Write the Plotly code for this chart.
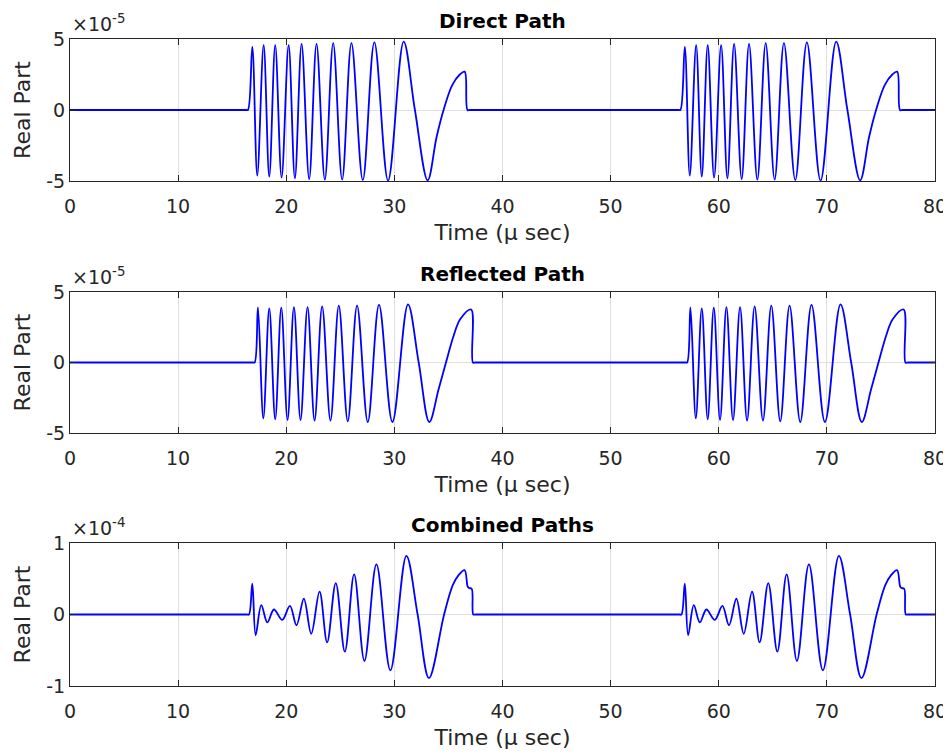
import plotly.graph_objects as go

# ---------------- data (time in microseconds) ----------------
# Values of the top two panels are in units of 1e-5, bottom panel in units of 1e-4.
pulse_offsets = [0.0, 40.0]          # the pulse repeats every 40 us
time_range = [0.0, 80.0]

direct_t = [16.30, 16.46, 16.86, 17.32, 17.91, 18.43, 18.98, 19.57, 20.22, 20.80,
            21.42, 22.12, 22.80, 23.57, 24.34, 25.17, 26.03, 27.08, 28.15, 29.42,
            30.86, 31.90, 33.08, 33.90, 34.55, 35.35, 36.05, 36.50, 36.76, 37.00]
direct_v = [0.0, 0.0, 4.45, -4.62, 4.57, -4.69, 4.57, -4.76, 4.57, -4.81,
            4.66, -4.86, 4.66, -4.90, 4.71, -4.90, 4.71, -4.93, 4.76, -4.97,
            4.81, 0.0, -4.95, -1.92, 0.0, 1.75, 2.50, 2.70, 0.0, 0.0]

reflected_t = [16.90, 17.08, 17.38, 17.88, 18.43, 18.98, 19.54, 20.12, 20.71, 21.32,
               21.97, 22.62, 23.32, 24.09, 24.86, 25.69, 26.55, 27.54, 28.58, 29.82,
               31.26, 32.25, 33.23, 34.09, 34.77, 35.48, 36.10, 37.10, 37.27, 37.50]
reflected_v = [0.0, 0.0, 3.91, -3.96, 3.84, -4.03, 3.89, -4.08, 3.93, -4.08,
               3.93, -4.12, 3.98, -4.12, 4.03, -4.17, 4.03, -4.22, 4.08, -4.22,
               4.12, 0.0, -4.22, -1.90, 0.0, 1.90, 3.08, 3.76, 0.0, 0.0]

combined_t = [16.35, 16.55, 16.86, 17.17, 17.69, 18.25, 18.86, 19.63, 20.34, 20.95,
              21.63, 22.31, 23.08, 23.78, 24.58, 25.42, 26.28, 27.23, 28.34, 29.63,
              31.11, 32.15, 33.20, 34.60, 35.40, 35.94, 36.49, 36.78, 36.90, 37.15,
              37.30, 37.50]
combined_v = [0.0, 0.0, 0.43, -0.29, 0.13, -0.11, 0.07, -0.075, 0.12, -0.15,
              0.22, -0.27, 0.32, -0.39, 0.44, -0.52, 0.56, -0.65, 0.70, -0.78,
              0.82, 0.0, -0.89, 0.0, 0.41, 0.55, 0.62, 0.39, 0.37, 0.36,
              0.0, 0.0]

titles = ["Direct Path", "Reflected Path", "Combined Paths"]
exponents = ["-5", "-5", "-4"]
y_ticks = [[-5, 0, 5], [-5, 0, 5], [-1, 0, 1]]
y_ticktext = [["-5", "0", "5"], ["-5", "0", "5"], ["-1", "0", "1"]]
x_ticks = [0, 10, 20, 30, 40, 50, 60, 70, 80]


def full_series(t, v):
    xs, ys = [time_range[0]], [0.0]
    for off in pulse_offsets:
        xs += [ti + off for ti in t]
        ys += list(v)
    xs.append(time_range[1])
    ys.append(0.0)
    return xs, ys


series = [full_series(direct_t, direct_v),
          full_series(reflected_t, reflected_v),
          full_series(combined_t, combined_v)]

# ---------------- layout ----------------
# The page body adds an 8px offset, so the figure is made 8px smaller and
# all target page positions are shifted by that offset.
OFF = 8
W, H = 951 - OFF, 755 - OFF
PLOT_L, PLOT_R = 70, 935          # page px of the plotting area
PLOT_T, PLOT_B = 39, 686
ML = PLOT_L - OFF
MR = W - (PLOT_R - OFF)
MT = PLOT_T - OFF
MB = H - (PLOT_B - OFF)
PH = H - MT - MB
# panel page-pixel extents (top, bottom)
panels_px = [(39, 181), (292, 433), (543, 686)]


def to_paper(ypx):
    return (PLOT_B - ypx) / PH


FONT = "DejaVu Sans"
TXT = "#262626"

fig = go.Figure()
annotations = []
for i, (xs, ys) in enumerate(series):
    n = "" if i == 0 else str(i + 1)
    fig.add_trace(go.Scatter(x=xs, y=ys, mode="lines",
                             line=dict(color="#0000ff", width=1.8, shape="spline", smoothing=1.0),
                             xaxis="x" + n, yaxis="y" + n, showlegend=False,
                             hoverinfo="skip"))
    top, bot = panels_px[i]
    dom = [to_paper(bot), to_paper(top)]
    common = dict(showline=True, linecolor=TXT, linewidth=1, mirror="ticks",
                  ticks="inside", ticklen=6, tickcolor=TXT, tickwidth=1,
                  showgrid=True, gridcolor="#dfdfdf", gridwidth=1, zeroline=False,
                  automargin=False,
                  tickfont=dict(family=FONT, size=19, color=TXT))
    fig.update_layout(**{
        "xaxis" + n: dict(common, domain=[0, 1], range=time_range, tickvals=x_ticks,
                          anchor="y" + n,
                          title=dict(text="Time (\u03bc sec)", font=dict(family=FONT, size=22, color=TXT),
                                     standoff=8),
                          ticklabelstandoff=8),
        "yaxis" + n: dict(common, domain=dom, range=[y_ticks[i][0], y_ticks[i][-1]],
                          tickvals=y_ticks[i], ticktext=y_ticktext[i], anchor="x" + n,
                          title=dict(text="Real Part", font=dict(family=FONT, size=22, color=TXT),
                                     standoff=9),
                          ticklabelstandoff=0),
    })
    annotations.append(dict(text="<b>%s</b>" % titles[i], xref="paper", yref="paper",
                            x=0.5, y=to_paper(top - 18), xanchor="center", yanchor="middle",
                            showarrow=False, font=dict(family=FONT, size=20, color="#000000")))
    annotations.append(dict(text="\u00d710<sup>%s</sup>" % exponents[i], xref="paper", yref="paper",
                            x=0.0, y=to_paper(top - 2), xanchor="left", yanchor="bottom",
                            showarrow=False, font=dict(family=FONT, size=19, color=TXT)))

fig.update_layout(width=W, height=H, margin=dict(l=ML, r=MR, t=MT, b=MB, autoexpand=False),
                  paper_bgcolor="white", plot_bgcolor="white",
                  annotations=annotations, showlegend=False)

fig.write_html("out.html")
